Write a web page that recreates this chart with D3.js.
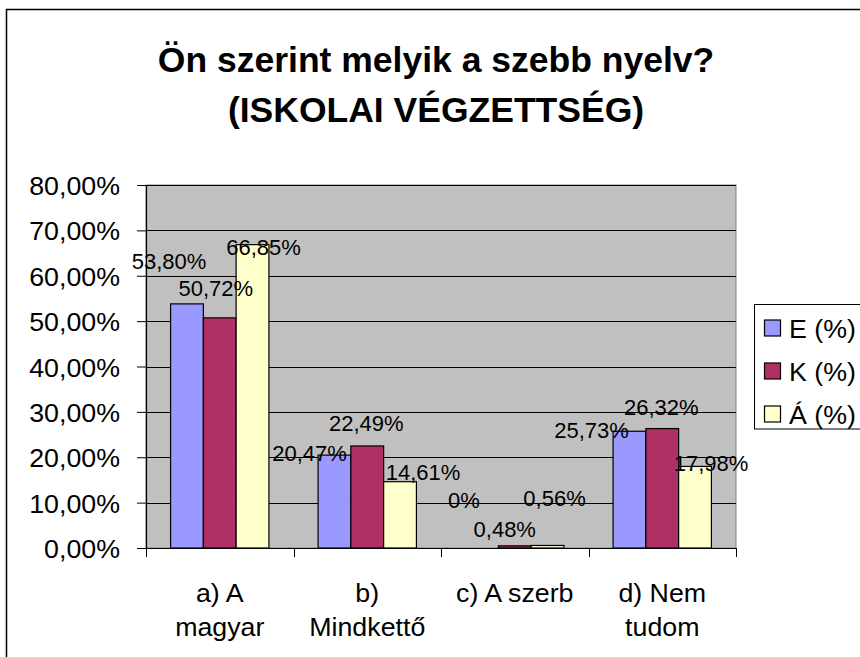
<!DOCTYPE html>
<html>
<head>
<meta charset="utf-8">
<script src="https://d3js.org/d3.v7.min.js"></script>
<style>
    body { margin: 0; background: #fff; }
    svg { display: block; }
    text { font-family: "Liberation Sans", Arial, sans-serif; fill: #000; }
</style>
</head>
<body>
<div id="chart"></div>
<script>
const categories = [["a) A", "magyar"], ["b)", "Mindkettő"], ["c) A szerb"], ["d) Nem", "tudom"]];
const seriesNames = ["E (%)", "K (%)", "Á (%)"];
const valuesE = [0.5380, 0.2047, 0, 0.2573];
const valuesK = [0.5072, 0.2249, 0.0048, 0.2632];
const valuesA = [0.6685, 0.1461, 0.0056, 0.1798];
const yTicks = [0, 0.1, 0.2, 0.3, 0.4, 0.5, 0.6, 0.7, 0.8];
const titleLines = ["Ön szerint melyik a szebb nyelv?", "(ISKOLAI VÉGZETTSÉG)"];

// the label placement in the original is hand-nudged, so keep the nudges [dx, dy] per bar
const labelNudge = [
    [[-18, -35], [-4, -22], [11, 10]],
    [[-25, 6], [-1, -15], [23, -2]],
    [[-18, -40], [-10, -9], [7, -39]],
    [[-38, 7], [-1, -14], [16, 5]]
];

const colors = ["#9999FF", "#AF3064", "#FFFFCC"];
const width = 860, height = 657;
const plot = { left: 146, right: 736, top: 185, bottom: 548 };
const textStretch = 1.03;
const fontSize = 26;

const svg = d3.select("#chart")
    .append("svg")
    .attr("width", width)
    .attr("height", height);

// chart area frame
svg.append("rect")
    .attr("x", 6.5).attr("y", 9.5)
    .attr("width", 900).attr("height", 700)
    .attr("fill", "#fff")
    .attr("stroke", "#000")
    .attr("stroke-width", 1.5);

// helper for the slightly wide text of the original
function stretchedText(parent, x, y, str, size, anchor) {
    parent.append("g")
        .attr("transform", `translate(${x},${y}) scale(${textStretch},1)`)
        .append("text")
        .attr("text-anchor", anchor)
        .style("font-size", size + "px")
        .text(str);
}

// title
svg.append("g").selectAll("text")
    .data(titleLines)
    .join("text")
    .attr("x", 436)
    .attr("y", (d, i) => 72 + i * 49.5)
    .attr("text-anchor", "middle")
    .style("font-size", "35.5px")
    .style("font-weight", "bold")
    .text(d => d);

const x = d3.scaleBand()
    .domain(d3.range(categories.length))
    .range([plot.left, plot.right])
    .padding(0);

const xInner = d3.scaleBand()
    .domain(d3.range(seriesNames.length))
    .range([0, x.bandwidth()])
    .paddingInner(0)
    .paddingOuter(0.75);

const y = d3.scaleLinear()
    .domain([0, 0.8])
    .range([plot.bottom, plot.top]);

// plot background
svg.append("rect")
    .attr("x", plot.left).attr("y", plot.top)
    .attr("width", plot.right - plot.left)
    .attr("height", plot.bottom - plot.top)
    .attr("fill", "#C0C0C0")
    .attr("stroke", "#808080")
    .attr("stroke-width", 1);

// gridlines
svg.append("g").selectAll("line")
    .data(yTicks.filter(d => d > 0))
    .join("line")
    .attr("x1", plot.left).attr("x2", plot.right)
    .attr("y1", d => Math.round(y(d)) + 0.5)
    .attr("y2", d => Math.round(y(d)) + 0.5)
    .attr("stroke", "#000")
    .attr("stroke-width", 1);

// bars
const allValues = [valuesE, valuesK, valuesA];
const barData = [];
categories.forEach((c, ci) => {
    allValues.forEach((vals, si) => {
        barData.push({ ci, si, value: vals[ci] });
    });
});

svg.append("g").selectAll("rect")
    .data(barData.filter(d => d.value > 0))
    .join("rect")
    .attr("x", d => x(d.ci) + xInner(d.si))
    .attr("y", d => y(d.value))
    .attr("width", xInner.bandwidth())
    .attr("height", d => y(0) - y(d.value))
    .attr("fill", d => colors[d.si])
    .attr("stroke", "#000")
    .attr("stroke-width", 1.2);

// axes
const yAxis = d3.axisLeft(y)
    .tickValues(yTicks)
    .tickSize(9)
    .tickFormat(() => "");
svg.append("g")
    .attr("transform", `translate(${plot.left},0)`)
    .call(yAxis)
    .call(g => g.select(".domain").attr("stroke", "#000").attr("stroke-width", 1.2))
    .call(g => g.selectAll(".tick line").attr("stroke", "#000"));

const xAxis = d3.axisBottom(x)
    .tickValues([])
    .tickSizeOuter(0);
svg.append("g")
    .attr("transform", `translate(0,${plot.bottom})`)
    .call(xAxis)
    .call(g => g.select(".domain").attr("stroke", "#000").attr("stroke-width", 1.2));

// category boundary ticks
svg.append("g").selectAll("line")
    .data(d3.range(categories.length + 1))
    .join("line")
    .attr("x1", d => Math.round(d < categories.length ? x(d) : plot.right) + 0.5)
    .attr("x2", d => Math.round(d < categories.length ? x(d) : plot.right) + 0.5)
    .attr("y1", plot.bottom)
    .attr("y2", plot.bottom + 9)
    .attr("stroke", "#000");

// y tick labels
const fmtPct = d3.format(".2%");
const yLabels = svg.append("g");
yTicks.forEach(t => {
    stretchedText(yLabels, 120, y(t) + 10, fmtPct(t).replace(".", ","), fontSize, "end");
});

// category labels
const catLabels = svg.append("g");
categories.forEach((lines, ci) => {
    lines.forEach((line, li) => {
        stretchedText(catLabels, x(ci) + x.bandwidth() / 2, 602 + li * 33.5, line, fontSize, "middle");
    });
});

// data labels
const labelText = v => v === 0 ? "0%" : fmtPct(v).replace(".", ",");
svg.append("g").selectAll("text")
    .data(barData)
    .join("text")
    .attr("x", d => x(d.ci) + xInner(d.si) + xInner.bandwidth() / 2 + labelNudge[d.ci][d.si][0])
    .attr("y", d => y(d.value) + labelNudge[d.ci][d.si][1])
    .attr("text-anchor", "middle")
    .style("font-size", "22px")
    .text(d => labelText(d.value));

// legend
const legend = svg.append("g");
legend.append("rect")
    .attr("x", 754.5).attr("y", 304.5)
    .attr("width", 130).attr("height", 124.5)
    .attr("fill", "#fff")
    .attr("stroke", "#000")
    .attr("stroke-width", 1);

seriesNames.forEach((name, i) => {
    const cy = 328 + i * 43;
    legend.append("rect")
        .attr("x", 764.5).attr("y", cy - 8)
        .attr("width", 16).attr("height", 16)
        .attr("fill", colors[i])
        .attr("stroke", "#000")
        .attr("stroke-width", 1.2);
    stretchedText(legend, 789, cy + 9.5, name, fontSize, "start");
});
</script>
</body>
</html>
